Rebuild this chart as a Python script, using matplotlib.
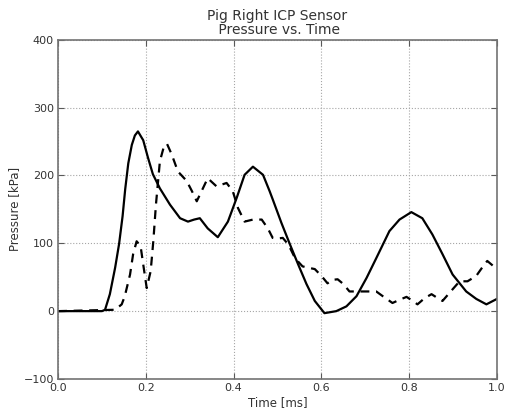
import matplotlib
matplotlib.use('Agg')
import matplotlib.pyplot as plt
import numpy as np

# solid trace (time in ms, pressure in kPa)
t_solid = [0.0, 0.10, 0.107, 0.118, 0.130, 0.139, 0.147, 0.153, 0.160, 0.168,
           0.175, 0.182, 0.194, 0.205, 0.216, 0.232, 0.255, 0.278, 0.296, 0.310,
           0.323, 0.341, 0.364, 0.387, 0.407, 0.425, 0.444, 0.467, 0.482, 0.489,
           0.509, 0.528, 0.547, 0.566, 0.585, 0.607, 0.634, 0.657, 0.680, 0.703,
           0.725, 0.740, 0.755, 0.778, 0.805, 0.830, 0.853, 0.876, 0.899, 0.930,
           0.953, 0.976, 1.0]
p_solid = [0, 0, 2, 25, 64, 99, 140, 180, 218, 245,
           259, 265, 252, 226, 202, 181, 157, 137, 132, 135,
           137, 122, 109, 132, 167, 201, 213, 201, 177, 165,
           130, 99, 69, 40, 15, -3, 0, 7, 22, 49,
           78, 98, 118, 135, 146, 137, 113, 84, 54, 29,
           18, 10, 18]

# dashed trace
t_dash = [0.0, 0.13, 0.145, 0.152, 0.164, 0.171, 0.179, 0.188, 0.194, 0.202,
          0.211, 0.217, 0.223, 0.232, 0.240, 0.248, 0.259, 0.273, 0.293, 0.305,
          0.316, 0.330, 0.341, 0.361, 0.384, 0.398, 0.410, 0.425, 0.444, 0.464,
          0.478, 0.489, 0.500, 0.512, 0.525, 0.540, 0.557, 0.570, 0.585, 0.600,
          0.614, 0.625, 0.637, 0.650, 0.664, 0.690, 0.725, 0.740, 0.762, 0.779,
          0.794, 0.806, 0.819, 0.835, 0.851, 0.863, 0.876, 0.892, 0.915, 0.933,
          0.953, 0.965, 0.978, 1.0]
p_dash = [0, 2, 10, 22, 54, 84, 103, 96, 69, 34,
          59, 103, 157, 221, 240, 247, 231, 206, 192, 177,
          162, 181, 196, 184, 189, 177, 152, 132, 135, 135,
          122, 108, 107, 108, 98, 78, 66, 64, 62, 52,
          41, 46, 47, 40, 29, 29, 29, 22, 12, 17,
          21, 16, 10, 19, 25, 20, 15, 27, 44, 44,
          52, 63, 74, 62]

fig = plt.figure(figsize=(5.05, 4.11), dpi=100)
ax = fig.add_axes([0.115, 0.078, 0.869, 0.825])

ax.plot(t_solid, p_solid, color='k', lw=1.6, ls='-')
ax.plot(t_dash, p_dash, color='k', lw=1.6, ls='--', dashes=(4, 3))

ax.set_xlim(0, 1.0)
ax.set_ylim(-100, 400)
ax.set_xticks([0.0, 0.2, 0.4, 0.6, 0.8, 1.0])
ax.set_yticks([-100, 0, 100, 200, 300, 400])

ax.grid(True, color='0.65', linestyle=':', linewidth=0.8)
ax.tick_params(direction='in', top=True, right=True, length=4,
               labelsize=8, colors='0.35', labelcolor='0.2', pad=3)
for sp in ax.spines.values():
    sp.set_color('0.45')
    sp.set_linewidth(1.2)

ax.set_xlabel('Time [ms]', fontsize=8.5, color='0.2', labelpad=2)
ax.set_ylabel('Pressure [kPa]', fontsize=8.5, color='0.2', labelpad=2)
ax.set_title('Pig Right ICP Sensor\n Pressure vs. Time', fontsize=10, color='0.2',
             linespacing=1.0, pad=4)

plt.savefig('out.png', dpi=100)
plt.close()
